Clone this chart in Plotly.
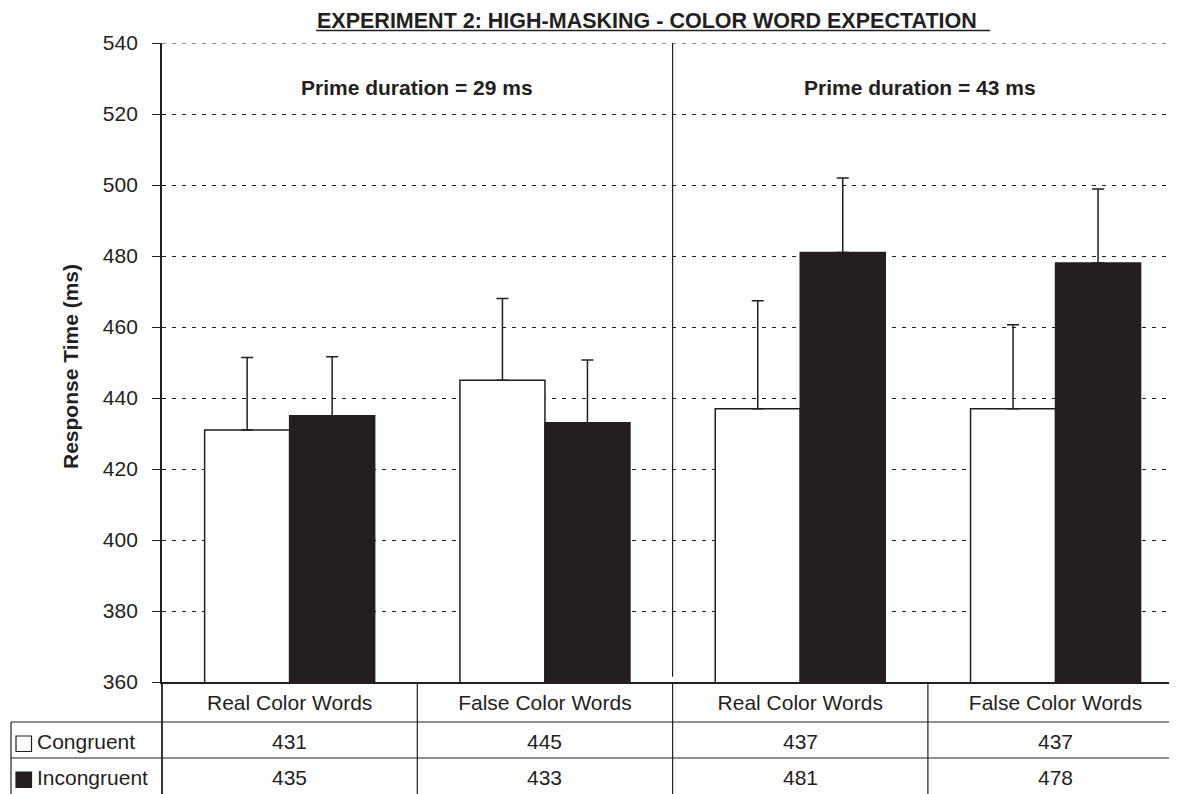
import plotly.graph_objects as go

# ---- data ----
categories = ["Real Color Words", "False Color Words", "Real Color Words", "False Color Words"]
series_names = ["Congruent", "Incongruent"]
congruent = [431, 445, 437, 437]
incongruent = [435, 433, 481, 478]
congruent_err = [20.4, 23.0, 30.4, 23.6]
incongruent_err = [16.6, 17.7, 21.0, 20.9]
panel_labels = ["Prime duration = 29 ms", "Prime duration = 43 ms"]
title_text = "EXPERIMENT 2: HIGH-MASKING - COLOR WORD EXPECTATION"
y_ticks = [360, 380, 400, 420, 440, 460, 480, 500, 520, 540]

INK = "#231f20"
FONT = "Liberation Sans, Arial, Helvetica, sans-serif"
FS = 21

OFF = 8  # page body margin
W, H = 1177 - OFF, 794 - OFF
L, T = 162 - OFF, 43 - OFF
R = 0
PLOT_BOTTOM = 682 - OFF
B = H - PLOT_BOTTOM
PW, PH = W - L - R, H - T - B
cat_px = 255.3

def px(X):
    # X: screenshot pixel -> paper
    return (X - OFF - L) / PW

def py(Y):
    return (PLOT_BOTTOM - (Y - OFF)) / PH

xs = list(range(len(categories)))

fig = go.Figure()
fig.add_trace(go.Bar(
    x=xs, y=congruent, name=series_names[0],
    marker=dict(color="white", line=dict(color=INK, width=1.5)),
    error_y=dict(type="data", symmetric=False, array=congruent_err,
                 arrayminus=[0] * len(congruent), color=INK, thickness=1.5, width=6),
))
fig.add_trace(go.Bar(
    x=xs, y=incongruent, name=series_names[1],
    marker=dict(color=INK, line=dict(color=INK, width=1.5)),
    error_y=dict(type="data", symmetric=False, array=incongruent_err,
                 arrayminus=[0] * len(incongruent), color=INK, thickness=1.5, width=6),
))

fig.update_layout(
    width=W, height=H,
    margin=dict(l=L, r=R, t=T, b=B, pad=0),
    paper_bgcolor="white", plot_bgcolor="white",
    barmode="group", bargap=0.334, bargroupgap=0,
    showlegend=False,
    font=dict(family=FONT, size=FS, color=INK),
)

fig.update_xaxes(
    range=[-0.5, -0.5 + PW / cat_px],
    tickvals=xs, ticktext=categories,
    ticks="", showgrid=False, zeroline=False,
    showline=True, linecolor=INK, linewidth=1.5,
    tickfont=dict(family=FONT, size=FS, color=INK),
    ticklabelstandoff=1,
)
fig.update_yaxes(
    range=[360, 540], tickvals=y_ticks,
    ticks="outside", ticklen=8, tickcolor=INK, tickwidth=1.2,
    showline=True, linecolor=INK, linewidth=1.8,
    showgrid=True, gridcolor=INK, gridwidth=1, griddash="4px,6px",
    zeroline=False,
    tickfont=dict(family=FONT, size=FS, color=INK),
    ticklabelstandoff=10,
)

shapes = []
# top dashed gridline at the range edge
shapes.append(dict(type="line", xref="paper", yref="y", x0=0, x1=1, y0=y_ticks[-1], y1=y_ticks[-1],
                   line=dict(color=INK, width=1, dash="4px,6px")))
# separator between prime durations
shapes.append(dict(type="line", xref="x", yref="y", x0=1.5, x1=1.5, y0=361.5, y1=540,
                   line=dict(color=INK, width=1.2)))
# table vertical lines
for xv in [0.5, 1.5, 2.5]:
    shapes.append(dict(type="line", xref="x", yref="paper", x0=xv, x1=xv, y0=0, y1=py(800),
                       line=dict(color=INK, width=1.2)))
shapes.append(dict(type="line", xref="paper", yref="paper", x0=0, x1=0, y0=0, y1=py(800),
                   line=dict(color=INK, width=1.8)))
shapes.append(dict(type="line", xref="paper", yref="paper", x0=px(11), x1=px(11), y0=py(722), y1=py(800),
                   line=dict(color=INK, width=1.2)))
for Y in [722, 758]:
    shapes.append(dict(type="line", xref="paper", yref="paper", x0=px(11), x1=1, y0=py(Y), y1=py(Y),
                       line=dict(color=INK, width=1.2)))
# legend keys
shapes.append(dict(type="rect", xref="paper", yref="paper", x0=px(16), x1=px(31.5), y0=py(736), y1=py(751.5),
                   line=dict(color=INK, width=1.2), fillcolor="white"))
shapes.append(dict(type="rect", xref="paper", yref="paper", x0=px(16), x1=px(31.5), y0=py(772), y1=py(787.5),
                   line=dict(color=INK, width=1.2), fillcolor=INK))
# title underline
shapes.append(dict(type="line", xref="paper", yref="paper", x0=px(316), x1=px(990), y0=py(30.5), y1=py(30.5),
                   line=dict(color=INK, width=1.5)))

annotations = []
annotations.append(dict(text="<b>" + title_text + "</b>", xref="paper", yref="paper",
                        x=px(316), y=py(8), xanchor="left", yanchor="top", showarrow=False,
                        borderpad=0,
                        font=dict(family=FONT, size=21.5, color=INK)))
annotations.append(dict(text="<b>" + panel_labels[0] + "</b>", xref="x", yref="paper",
                        x=0.5, y=py(87), xanchor="center", yanchor="middle", showarrow=False,
                        font=dict(family=FONT, size=FS, color=INK)))
annotations.append(dict(text="<b>" + panel_labels[1] + "</b>", xref="x", yref="paper",
                        x=2.47, y=py(87), xanchor="center", yanchor="middle", showarrow=False,
                        font=dict(family=FONT, size=FS, color=INK)))
annotations.append(dict(text="<b>Response Time (ms)</b>", xref="paper", yref="paper",
                        x=px(70), y=py(367), xanchor="center", yanchor="middle", textangle=-90,
                        showarrow=False, font=dict(family=FONT, size=FS, color=INK)))
# table rows
for name, vals, Yc in [(series_names[0], congruent, 741), (series_names[1], incongruent, 777)]:
    annotations.append(dict(text=name, xref="paper", yref="paper", x=px(35), y=py(Yc),
                            xanchor="left", yanchor="middle", showarrow=False,
                            font=dict(family=FONT, size=FS, color=INK)))
    for xi, v in zip(xs, vals):
        annotations.append(dict(text=str(v), xref="x", yref="paper", x=xi, y=py(Yc),
                                xanchor="center", yanchor="middle", showarrow=False,
                                font=dict(family=FONT, size=FS, color=INK)))

fig.update_layout(shapes=shapes, annotations=annotations)
fig.write_html("out.html")
